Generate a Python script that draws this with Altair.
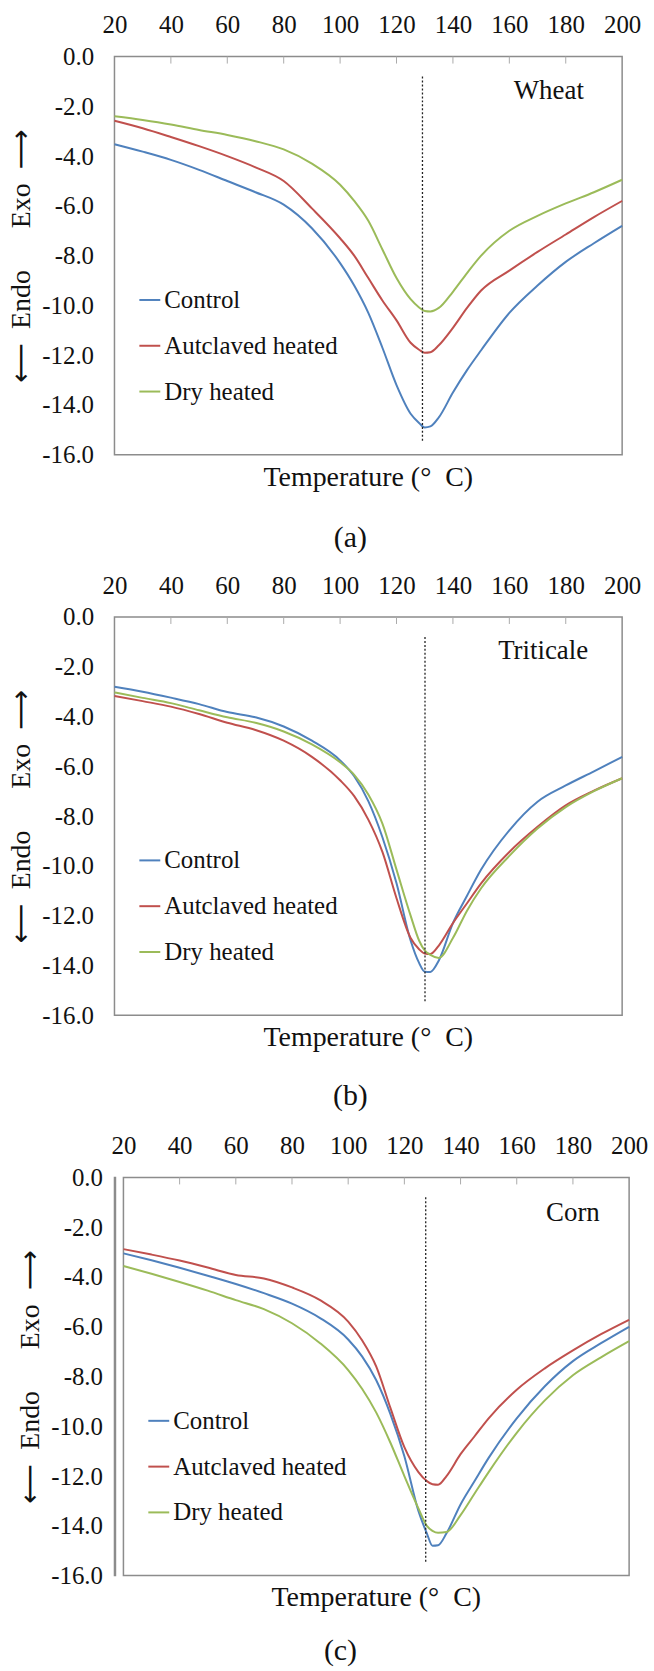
import altair as alt
import pandas as pd

# ---------------- data ----------------
TEMPS = [20, 30, 40, 50, 60, 70, 80, 90, 100, 105, 110, 115, 120, 125, 128,
         130, 132, 135, 140, 145, 150, 160, 170, 180, 190, 200]
SERIES = ["Control", "Autclaved heated", "Dry heated"]
COLORS = ["#4F81BD", "#C0504D", "#9BBB59"]
X_TICKS = [20, 40, 60, 80, 100, 120, 140, 160, 180, 200]
Y_TICKS = [0, -2, -4, -6, -8, -10, -12, -14, -16]

wheat_control = [-3.52, -3.82, -4.15, -4.55, -5.0, -5.45, -5.95, -6.9, -8.3, -9.2, -10.3, -11.7, -13.2,
                 -14.35, -14.72, -14.9, -14.86, -14.5, -13.5, -12.6, -11.8, -10.3, -9.2, -8.25, -7.5, -6.8]
wheat_auto = [-2.58, -2.88, -3.23, -3.6, -4.0, -4.45, -5.0, -6.1, -7.3, -8.0, -8.9, -9.8, -10.6,
              -11.5, -11.78, -11.9, -11.88, -11.6, -10.9, -10.1, -9.4, -8.6, -7.85, -7.15, -6.45, -5.8]
wheat_dry = [-2.4, -2.55, -2.73, -2.95, -3.15, -3.4, -3.73, -4.3, -5.15, -5.8, -6.6, -7.75, -8.9,
             -9.75, -10.08, -10.22, -10.24, -10.1, -9.45, -8.7, -8.0, -7.0, -6.4, -5.9, -5.45, -4.95]

trit_control = [-2.8, -3.0, -3.24, -3.5, -3.82, -4.03, -4.4, -4.97, -5.76, -6.4, -7.4, -8.85, -10.7,
                -13.0, -13.9, -14.25, -14.26, -13.8, -12.3, -11.2, -10.15, -8.57, -7.42, -6.77, -6.2, -5.62]
trit_auto = [-3.17, -3.38, -3.6, -3.9, -4.25, -4.54, -4.97, -5.62, -6.56, -7.2, -8.14, -9.44, -11.3,
             -12.9, -13.35, -13.52, -13.54, -13.2, -12.3, -11.5, -10.7, -9.44, -8.43, -7.57, -6.98, -6.48]
trit_dry = [-3.03, -3.25, -3.46, -3.75, -4.03, -4.25, -4.6, -5.12, -5.84, -6.34, -7.13, -8.3, -10.15,
            -12.0, -13.0, -13.4, -13.58, -13.7, -12.9, -11.8, -10.9, -9.6, -8.5, -7.64, -7.0, -6.48]

corn_control = [-3.05, -3.33, -3.63, -3.95, -4.28, -4.65, -5.07, -5.65, -6.51, -7.2, -8.15, -9.5, -11.2,
                -13.4, -14.3, -14.8, -14.78, -14.3, -13.14, -12.2, -11.27, -9.68, -8.39, -7.38, -6.66, -6.0]
corn_auto = [-2.88, -3.1, -3.34, -3.62, -3.92, -4.06, -4.42, -4.93, -5.79, -6.55, -7.6, -9.25, -10.84,
             -11.84, -12.2, -12.33, -12.35, -12.0, -11.12, -10.4, -9.68, -8.53, -7.67, -6.95, -6.3, -5.72]
corn_dry = [-3.56, -3.87, -4.2, -4.55, -4.93, -5.29, -5.86, -6.66, -7.74, -8.5, -9.45, -10.65, -12.0,
            -13.3, -14.0, -14.2, -14.28, -14.25, -13.57, -12.7, -11.84, -10.26, -8.96, -7.95, -7.23, -6.58]

PANELS = [
    dict(data=(wheat_control, wheat_auto, wheat_dry), name="Wheat", name_t=174, name_h=-1.4,
         vline_t=129.2, letter="(a)", letter_x=237, letter_y=484, width=510),
    dict(data=(trit_control, trit_auto, trit_dry), name="Triticale", name_t=172, name_h=-1.35,
         vline_t=130.1, letter="(b)", letter_x=237, letter_y=481, width=510),
    dict(data=(corn_control, corn_auto, corn_dry), name="Corn", name_t=180, name_h=-1.45,
         vline_t=127.6, letter="(c)", letter_x=218, letter_y=476, width=508),
]

FONT = "Liberation Serif"
H = 400
Y_TITLE = "\u27f5\u00a0\u00a0Endo\u00a0\u00a0\u00a0\u00a0\u00a0\u00a0Exo\u00a0\u00a0\u27f6"


def make_panel(p):
    w = p["width"]
    ctrl, auto, dry = p["data"]
    df = pd.DataFrame({
        "T": TEMPS * 3,
        "H": ctrl + auto + dry,
        "S": [SERIES[0]] * len(TEMPS) + [SERIES[1]] * len(TEMPS) + [SERIES[2]] * len(TEMPS),
    })
    x_enc = alt.X("T:Q", scale=alt.Scale(domain=[20, 200], nice=False, zero=False),
                  axis=alt.Axis(orient="top", values=X_TICKS, format="d", title=None,
                                ticks=False, tickSize=0, labelPadding=32, labelBaseline="middle",
                                domain=False, grid=False, labelFlush=False, labelFontSize=25,
                                labelColor="#111", labelFont=FONT))
    y_enc = alt.Y("H:Q", scale=alt.Scale(domain=[-16, 0], nice=False, zero=False),
                  axis=alt.Axis(values=Y_TICKS,
                                labelExpr="datum.value == 0 ? '0.0' : '-' + format(-datum.value, '.1f')",
                                title=Y_TITLE, titleFont=FONT + ", DejaVu Sans", titleFontSize=28,
                                titleFontWeight="normal", titleColor="#111",
                                titleAngle=270, titleAlign="center", titleBaseline="middle",
                                titleX=-93, titleY=H / 2,
                                ticks=False, tickSize=0, labelPadding=21, domain=False, grid=False,
                                labelFontSize=25, labelColor="#111", labelFont=FONT))
    lines = alt.Chart(df).mark_line(strokeWidth=2, interpolate="monotone").encode(
        x=x_enc, y=y_enc,
        color=alt.Color("S:N", scale=alt.Scale(domain=SERIES, range=COLORS),
                        legend=alt.Legend(orient="none", legendX=23, legendY=232, title=None,
                                          symbolType="stroke", symbolSize=441, symbolStrokeWidth=2,
                                          labelFontSize=25, labelFont=FONT, labelColor="#111",
                                          labelLimit=0, labelOffset=2, rowPadding=20, padding=0)),
    )
    vline = alt.Chart(pd.DataFrame({"T": [p["vline_t"]], "H": [-0.8], "H2": [-15.5]})).mark_rule(
        color="#222", strokeWidth=1.3, strokeDash=[2, 2]).encode(x=x_enc, y=y_enc, y2="H2:Q")
    ticks = alt.Chart(pd.DataFrame({"T": X_TICKS[1:-1]})).mark_rule(color="#aaaaaa", strokeWidth=1).encode(
        x=x_enc, y=alt.value(0), y2=alt.value(7))
    name = alt.Chart(pd.DataFrame({"T": [p["name_t"]], "H": [p["name_h"]], "txt": [p["name"]]})).mark_text(
        font=FONT, fontSize=27, color="#111", baseline="middle", align="center").encode(
        x=x_enc, y=y_enc, text="txt:N")
    xtitle = alt.Chart(pd.DataFrame({"txt": ["Temperature (\u00b0\u00a0 C)"]})).mark_text(
        font=FONT, fontSize=28, color="#111", baseline="middle", align="center").encode(
        x=alt.value(w / 2), y=alt.value(H + 23), text="txt:N")
    letter = alt.Chart(pd.DataFrame({"txt": [p["letter"]]})).mark_text(
        font=FONT, fontSize=30, color="#111", baseline="middle", align="center").encode(
        x=alt.value(p["letter_x"]), y=alt.value(p["letter_y"]), text="txt:N")
    return alt.layer(ticks, lines, vline, name, xtitle, letter).properties(width=w, height=H)


pa, pb, pc = [make_panel(p) for p in PANELS]

spacer = alt.Chart(alt.Data(values=[{"a": 0}])).mark_point(opacity=0).encode(
    x=alt.value(0), y=alt.value(0)).properties(width=1, height=H)

row_c = alt.hconcat(spacer, pc, spacing=8, bounds="flush").resolve_scale(color="independent")

chart = alt.vconcat(pa, pb, row_c, spacing=163, bounds="flush").resolve_scale(
    color="independent").resolve_legend(color="independent").properties(
    padding={"left": 7, "top": 8, "right": 5, "bottom": 5}
).configure(font=FONT).configure_view(stroke="#8c8c8c", strokeWidth=1.5)

chart.save("out.html", embed_options={"renderer": "svg", "actions": False})
